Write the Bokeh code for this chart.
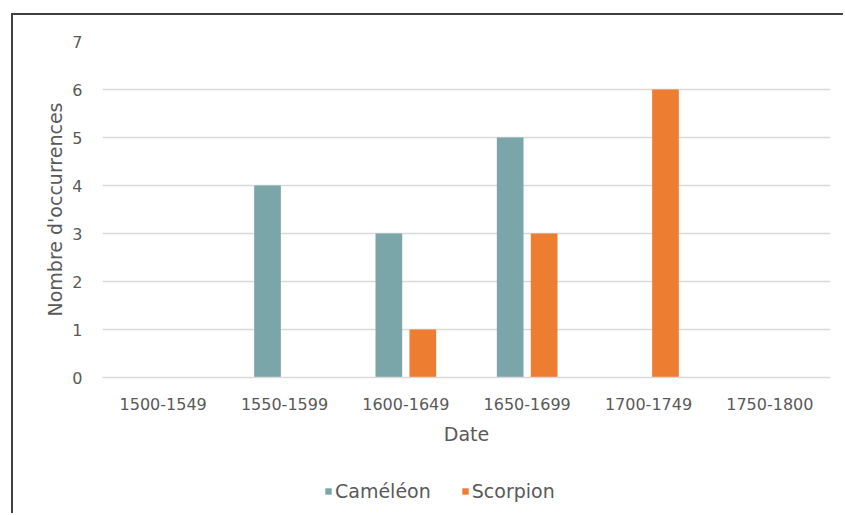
from bokeh.plotting import figure
from bokeh.layouts import column
from bokeh.models import ColumnDataSource, FactorRange, Range1d, Legend, LegendItem, FixedTicker
from bokeh.transform import dodge
from bokeh.embed import file_html
from bokeh.resources import INLINE

categories = ["1500-1549", "1550-1599", "1600-1649", "1650-1699", "1700-1749", "1750-1800"]
cameleon = [0, 4, 3, 5, 0, 0]
scorpion = [0, 0, 1, 3, 6, 0]
y_ticks = [0, 1, 2, 3, 4, 5, 6, 7]
series_names = ["Caméléon", "Scorpion"]

TEAL = "#7AA6AA"
ORANGE = "#ED7D31"
TEXT = "#595959"
GRID = "#D9D9D9"
FONT = "DejaVu Sans"

src = ColumnDataSource(dict(cat=categories, cam=cameleon, sco=scorpion))

W, H = 830, 440
p = figure(width=W, height=H, x_range=FactorRange(*categories), y_range=Range1d(0, 7),
           output_backend="svg", toolbar_location=None, tools="",
           min_border_left=89, min_border_right=W - 817, min_border_top=26, min_border_bottom=H - 362)
p.outline_line_color = None
p.background_fill_color = "white"
p.border_fill_color = "white"

r1 = p.vbar(x=dodge("cat", -0.14, range=p.x_range), top="cam", width=0.22, source=src,
            fill_color=TEAL, line_color=None)
r2 = p.vbar(x=dodge("cat", 0.14, range=p.x_range), top="sco", width=0.22, source=src,
            fill_color=ORANGE, line_color=None)

p.xgrid.grid_line_color = None
p.ygrid.grid_line_color = GRID
p.ygrid.grid_line_width = 1.5
p.yaxis.ticker = FixedTicker(ticks=y_ticks)

for ax in (p.xaxis[0], p.yaxis[0]):
    ax.major_tick_line_color = None
    ax.minor_tick_line_color = None
    ax.major_tick_out = 0
    ax.major_tick_in = 0
    ax.minor_tick_out = 0
    ax.minor_tick_in = 0
    ax.major_label_text_font = FONT
    ax.major_label_text_font_size = "16px"
    ax.major_label_text_color = TEXT
    ax.axis_label_text_font = FONT
    ax.axis_label_text_font_size = "19px"
    ax.axis_label_text_color = TEXT
    ax.axis_label_text_font_style = "normal"

p.yaxis.axis_line_color = None
p.xaxis.axis_line_color = GRID
p.xaxis.axis_line_width = 1.5
p.xaxis.major_label_standoff = 20
p.yaxis.major_label_standoff = 20
p.xaxis.axis_label = "Date"
p.yaxis.axis_label = "Nombre d'occurrences"
p.xaxis.axis_label_standoff = 10
p.yaxis.axis_label_standoff = 3

# legend strip below the chart (its own bars sit outside its visible y range)
LH = 58
pl = figure(width=W, height=LH, x_range=p.x_range, y_range=Range1d(100, 101),
            x_axis_type=None, y_axis_type=None, output_backend="svg", toolbar_location=None, tools="",
            min_border=0)
pl.outline_line_color = None
pl.grid.visible = False
pl.border_fill_color = "white"
pl.background_fill_color = "white"
l1 = pl.vbar(x=dodge("cat", -0.14, range=p.x_range), top="cam", width=0.22, source=src,
             fill_color=TEAL, line_color=None)
l2 = pl.vbar(x=dodge("cat", 0.14, range=p.x_range), top="sco", width=0.22, source=src,
             fill_color=ORANGE, line_color=None)

legend = Legend(items=[LegendItem(label=series_names[0], renderers=[l1]),
                       LegendItem(label=series_names[1], renderers=[l2])],
                orientation="horizontal", location=(222, 11))
legend.label_text_font = FONT
legend.label_text_font_size = "19px"
legend.label_text_color = TEXT
legend.glyph_width = 8
legend.glyph_height = 8
legend.label_standoff = 3
legend.spacing = 30
legend.padding = 0
legend.margin = 0
legend.border_line_color = None
legend.background_fill_alpha = 0
legend.label_height = 20
pl.add_layout(legend, "center")

layout = column(p, pl, spacing=0,
                styles={"margin-left": "11px", "margin-top": "13px",
                        "border-left": "2px solid #404040", "border-top": "2px solid #404040"})

open("out.html", "w").write(file_html(layout, INLINE))
